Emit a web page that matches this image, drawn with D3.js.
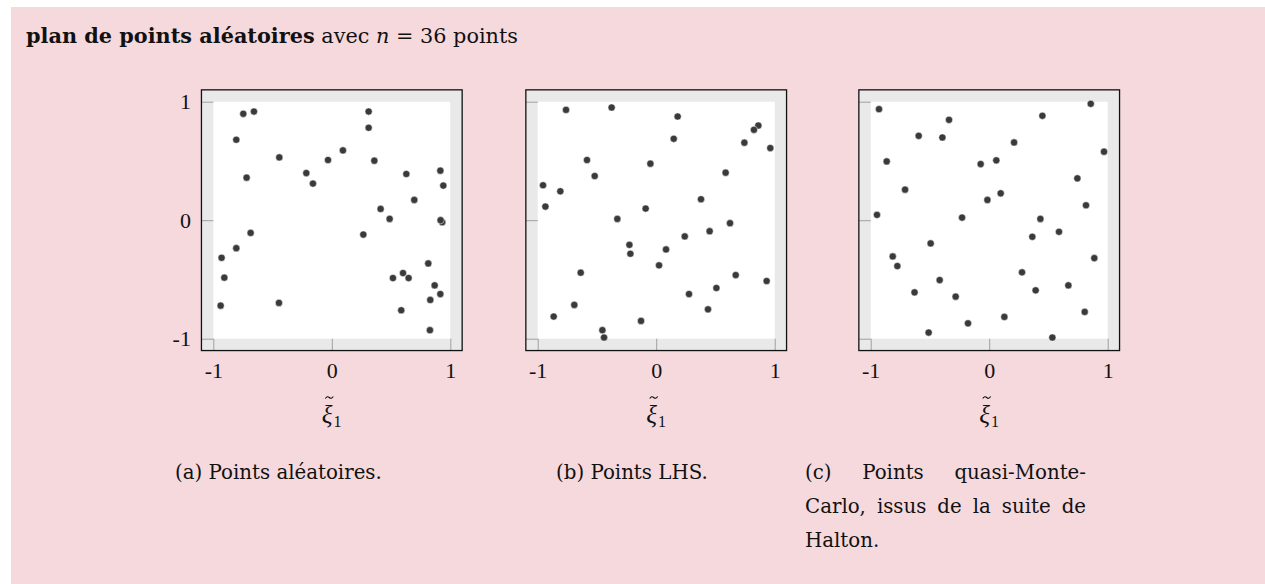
<!DOCTYPE html>
<html>
<head>
<meta charset="utf-8">
<script src="https://cdn.jsdelivr.net/npm/d3@7"></script>
<style>
body { margin: 0; background: #fff; }
svg { display: block; }
.serif { font-family: 'DejaVu Serif', 'Liberation Serif', serif; fill: #111; }
.lserif { font-family: 'Liberation Serif', 'DejaVu Serif', serif; fill: #111; }
.axis text { font-family: 'Liberation Serif', serif; font-size: 22px; fill: #111; }
.axis .tick line { stroke: #a0a0a0; stroke-width: 1; }
.axis path { display: none; }
</style>
</head>
<body>
<svg id="chart"></svg>
<script>
// tick values shared by all three panels
const tickValues = [-1, 0, 1];

// (a) random points
const pointsA = [
    [-0.747, 0.898], [-0.657, 0.917], [-0.806, 0.679], [-0.443, 0.530], [-0.719, 0.359],
    [-0.215, 0.398], [-0.159, 0.309], [-0.032, 0.508], [0.094, 0.589], [0.311, 0.917],
    [0.311, 0.780], [0.359, 0.502], [0.629, 0.390], [0.916, 0.418], [0.941, 0.292],
    [0.696, 0.171], [0.412, 0.095], [0.488, 0.011], [0.932, -0.017], [0.918, 0.000],
    [0.266, -0.121], [-0.685, -0.107], [-0.806, -0.236], [-0.930, -0.317], [-0.907, -0.485],
    [-0.938, -0.721], [-0.446, -0.698], [0.516, -0.488], [0.601, -0.446], [0.648, -0.488],
    [0.814, -0.365], [0.868, -0.550], [0.916, -0.623], [0.831, -0.673], [0.586, -0.760],
    [0.828, -0.928]
];

// (b) LHS points
const pointsB = [
    [-0.761, 0.931], [-0.376, 0.951], [0.181, 0.875], [0.148, 0.687], [0.862, 0.799],
    [0.825, 0.763], [0.744, 0.654], [0.963, 0.609], [-0.584, 0.508], [-0.519, 0.373],
    [-0.049, 0.477], [-0.955, 0.295], [-0.809, 0.244], [-0.935, 0.115], [0.586, 0.401],
    [0.378, 0.177], [-0.089, 0.098], [-0.328, 0.011], [0.623, -0.025], [0.451, -0.093],
    [0.241, -0.137], [-0.226, -0.208], [-0.218, -0.283], [0.083, -0.247], [0.024, -0.381],
    [-0.637, -0.443], [0.671, -0.463], [0.932, -0.513], [0.508, -0.572], [0.277, -0.623],
    [-0.691, -0.715], [0.437, -0.752], [-0.865, -0.813], [-0.128, -0.850], [-0.454, -0.928],
    [-0.440, -0.990]
];

// (c) Halton points
const pointsC = [
    [-0.930, 0.937], [0.857, 0.982], [0.449, 0.881], [-0.339, 0.847], [-0.595, 0.712],
    [-0.395, 0.698], [0.210, 0.656], [0.969, 0.578], [-0.865, 0.496], [-0.072, 0.474],
    [0.060, 0.505], [0.744, 0.353], [-0.710, 0.258], [0.097, 0.227], [-0.015, 0.171],
    [0.817, 0.126], [-0.947, 0.045], [-0.229, 0.022], [0.432, 0.011], [0.589, -0.098],
    [0.364, -0.140], [-0.494, -0.196], [-0.814, -0.306], [-0.775, -0.387], [0.887, -0.320],
    [0.277, -0.440], [-0.418, -0.505], [0.668, -0.550], [0.392, -0.592], [-0.630, -0.609],
    [-0.283, -0.645], [0.806, -0.774], [0.128, -0.816], [-0.179, -0.870], [-0.511, -0.948],
    [0.533, -0.990]
];

const captionA = ['(a) Points aléatoires.'];
const captionB = ['(b) Points LHS.'];
const captionC = ['(c) Points quasi-Monte-', 'Carlo, issus de la suite de', 'Halton.'];

const width = 1265, height = 584;

const svg = d3.select('#chart')
    .attr('width', width)
    .attr('height', height);

// pink box
svg.append('rect')
    .attr('x', 11).attr('y', 7)
    .attr('width', width - 11).attr('height', height - 7)
    .attr('fill', '#f6d9dd');

// title
const title = svg.append('text')
    .attr('class', 'serif')
    .attr('x', 26).attr('y', 43)
    .attr('font-size', 20.8);
title.append('tspan').attr('font-weight', 'bold').text('plan de points aléatoires');
title.append('tspan').text(' avec ');
title.append('tspan').attr('font-style', 'italic').text('n');
title.append('tspan').text(' = 36 points');

class PointPlot {
    constructor(_config, _data) {
        this.config = {
            left: _config.left,
            top: _config.top,
            size: _config.size || 237,
            enlarge: _config.enlarge || 0.1,
            yLabels: _config.yLabels,
            caption: _config.caption,
            captionX: _config.captionX,
            captionWidth: _config.captionWidth,
            pointSize: 3.6
        };
        this.data = _data;
        this.initVis();
    }

    initVis() {
        let vis = this;
        const c = vis.config;
        const half = c.size / 2;
        const lo = -1 - c.enlarge, hi = 1 + c.enlarge;

        vis.xScale = d3.scaleLinear().domain([lo, hi])
            .range([c.left + half - half * hi, c.left + half + half * hi]);
        vis.yScale = d3.scaleLinear().domain([lo, hi])
            .range([c.top + half + half * hi, c.top + half - half * hi]);

        const [x0, x1] = vis.xScale.range();
        const [y1, y0] = vis.yScale.range();
        const tick = vis.xScale(-1) - x0;

        vis.chart = svg.append('g');

        // grey axis background and white data square
        vis.chart.append('rect')
            .attr('x', x0).attr('y', y0)
            .attr('width', x1 - x0).attr('height', y1 - y0)
            .attr('fill', '#e9e9e9');
        vis.chart.append('rect')
            .attr('x', vis.xScale(-1)).attr('y', vis.yScale(1))
            .attr('width', vis.xScale(1) - vis.xScale(-1))
            .attr('height', vis.yScale(-1) - vis.yScale(1))
            .attr('fill', '#fff');

        vis.xAxis = d3.axisBottom(vis.xScale).tickValues(tickValues)
            .tickSizeInner(-tick).tickSizeOuter(0).tickPadding(12)
            .tickFormat(d => String(d));
        vis.yAxis = d3.axisLeft(vis.yScale).tickValues(tickValues)
            .tickSizeInner(-tick).tickSizeOuter(0).tickPadding(10.5)
            .tickFormat(c.yLabels ? (d => String(d)) : '');

        vis.chart.append('g')
            .attr('class', 'axis x-axis')
            .attr('transform', `translate(0,${y1})`)
            .call(vis.xAxis);
        vis.chart.append('g')
            .attr('class', 'axis y-axis')
            .attr('transform', `translate(${x0},0)`)
            .call(vis.yAxis);

        vis.chart.selectAll('.point')
            .data(vis.data)
            .join('circle')
            .attr('class', 'point')
            .attr('cx', d => vis.xScale(d[0]))
            .attr('cy', d => vis.yScale(d[1]))
            .attr('r', c.pointSize)
            .attr('fill', '#3a3a3a')
            .attr('stroke', '#fff')
            .attr('stroke-width', 0.5);

        // frame
        vis.chart.append('rect')
            .attr('x', x0).attr('y', y0)
            .attr('width', x1 - x0).attr('height', y1 - y0)
            .attr('fill', 'none')
            .attr('stroke', '#111')
            .attr('stroke-width', 1.3);

        // axis label: xi with subscript 1, tilde drawn as a small wave above
        const lx = vis.xScale(0) - 10;
        const label = vis.chart.append('text')
            .attr('class', 'lserif')
            .attr('x', lx).attr('y', 423);
        label.append('tspan')
            .attr('font-size', 25).attr('font-style', 'italic')
            .text('ξ');
        label.append('tspan')
            .attr('font-size', 16).attr('dx', 1).attr('dy', 4)
            .text('1');
        const tx = lx + 7.5, ty = 397.5;
        vis.chart.append('path')
            .attr('d', `M${tx - 4},${ty + 1} q2,-3 4,-1 t4,-1`)
            .attr('fill', 'none')
            .attr('stroke', '#111')
            .attr('stroke-width', 1.1);

        // caption lines, justified when a width is given
        c.caption.forEach((line, i) => {
            const y = 479 + i * 34;
            const justify = c.captionWidth && i < c.caption.length - 1;
            if (!justify) {
                vis.chart.append('text')
                    .attr('class', 'serif')
                    .attr('x', c.captionX).attr('y', y)
                    .attr('font-size', 19.8)
                    .text(line);
                return;
            }
            const words = line.split(' ');
            const nodes = words.map(w => vis.chart.append('text')
                .attr('class', 'serif')
                .attr('y', y)
                .attr('font-size', 19.8)
                .text(w));
            const widths = nodes.map(n => n.node().getComputedTextLength());
            const gap = (c.captionWidth - d3.sum(widths)) / (words.length - 1);
            let x = c.captionX;
            nodes.forEach((n, j) => {
                n.attr('x', x);
                x += widths[j] + gap;
            });
        });
    }
}

new PointPlot({ left: 213.3, top: 101.7, yLabels: true, caption: captionA, captionX: 175 }, pointsA);
new PointPlot({ left: 537.7, top: 101.7, yLabels: false, caption: captionB, captionX: 556 }, pointsB);
new PointPlot({ left: 870.7, top: 101.7, yLabels: false, caption: captionC, captionX: 805, captionWidth: 281 }, pointsC);
</script>
</body>
</html>
